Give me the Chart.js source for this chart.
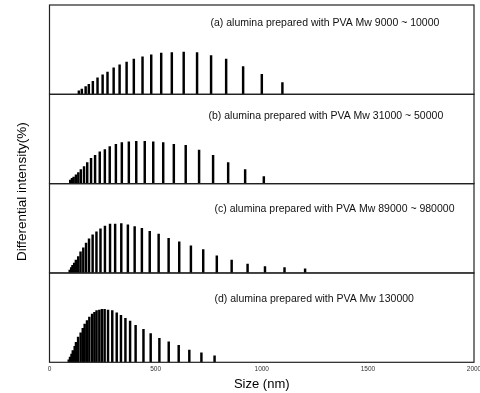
<!DOCTYPE html>
<html>
<head>
<meta charset="UTF-8">
<title>Particle size distribution</title>
<script src="https://cdn.jsdelivr.net/npm/chart.js"></script>
<style>
    html, body { margin: 0; padding: 0; background: white; }
    #wrap { width: 480px; height: 393px; }
</style>
</head>
<body>
<div id="wrap"><canvas id="sizeChart" width="480" height="393"></canvas></div>
<script>
    // size bins (nm) and differential intensity (%) for each sample
    const sizesA = [151, 165, 183, 198, 217, 239, 263, 286, 315, 343, 376, 410, 451, 492, 539, 589, 645, 708, 774, 845, 925, 1013, 1110];
    const valuesA = [0.6, 0.9, 1.3, 1.7, 2.2, 2.8, 3.3, 3.8, 4.5, 5.0, 5.5, 6.0, 6.4, 6.7, 7.0, 7.1, 7.2, 7.1, 6.6, 6.0, 4.7, 3.4, 2.0];

    const sizesB = [102, 110, 118, 129, 140, 152, 167, 182, 200, 219, 241, 265, 288, 317, 345, 378, 413, 453, 493, 540, 590, 646, 709, 775, 846, 926, 1014];
    const valuesB = [0.6, 0.9, 1.1, 1.5, 1.9, 2.4, 2.9, 3.6, 4.3, 4.8, 5.4, 5.8, 6.3, 6.7, 7.0, 7.1, 7.2, 7.2, 7.1, 7.0, 6.7, 6.5, 5.7, 4.8, 3.6, 2.4, 1.2];

    const sizesC = [91, 98, 104, 112, 120, 131, 142, 155, 168, 182, 199, 217, 236, 257, 281, 305, 334, 365, 397, 431, 468, 510, 557, 607, 662, 720, 784, 854, 929, 1011, 1103, 1200];
    const valuesC = [0.5, 0.9, 1.3, 1.7, 2.2, 2.8, 3.6, 4.3, 5.1, 5.8, 6.5, 7.0, 7.5, 8.0, 8.3, 8.3, 8.4, 8.2, 7.9, 7.6, 7.1, 6.6, 5.9, 5.3, 4.6, 4.0, 2.9, 2.2, 1.5, 1.1, 0.9, 0.7];

    const sizesD = [78, 84, 91, 97, 106, 112, 122, 134, 144, 153, 164, 175, 188, 199, 209, 222, 234, 247, 263, 283, 304, 324, 345, 367, 393, 430, 464, 505, 549, 596, 646, 703, 765];
    const valuesD = [0.4, 0.9, 1.4, 2.0, 2.7, 3.4, 4.3, 5.0, 5.8, 6.5, 7.1, 7.7, 8.2, 8.5, 8.8, 8.9, 9.0, 9.0, 8.9, 8.8, 8.4, 8.0, 7.5, 7.0, 6.3, 5.6, 4.9, 4.1, 3.5, 2.9, 2.1, 1.6, 1.1];

    const panelLabels = [
        '(a) alumina prepared with PVA Mw 9000 ~ 10000',
        '(b) alumina prepared with PVA Mw 31000 ~ 50000',
        '(c) alumina prepared with PVA Mw 89000 ~ 980000',
        '(d) alumina prepared with PVA Mw 130000'
    ];
    const xTicks = [0, 500, 1000, 1500, 2000];
    const yMax = 15.2;

    const FONT = 'Liberation Sans, Arial, sans-serif';

    function toPoints(sizes, values) {
        return sizes.map((s, i) => ({x: s, y: values[i]}));
    }

    const panelIds = ['ya', 'yb', 'yc', 'yd'];
    const allSizes = [sizesA, sizesB, sizesC, sizesD];
    const allValues = [valuesA, valuesB, valuesC, valuesD];

    const datasets = panelIds.map((id, i) => ({
        label: panelLabels[i],
        data: toPoints(allSizes[i], allValues[i]),
        yAxisID: id,
        backgroundColor: '#000',
        borderWidth: 0,
        barThickness: 1.8
    }));

    const scales = {
        x: {
            type: 'linear',
            min: 0,
            max: 2000,
            offset: false,
            afterBuildTicks: axis => {
                axis.ticks = xTicks.map(v => ({value: v}));
            },
            afterFit: axis => {
                // let the end labels run past the frame, like the original
                axis.paddingLeft = 0;
                axis.paddingRight = 0;
                axis.height = 30.7;
            },
            grid: {display: false, drawTicks: false, offset: false},
            border: {display: false},
            ticks: {
                font: {family: FONT, size: 6.5},
                color: '#333',
                padding: 2.8,
                maxRotation: 0,
                callback: v => String(v)
            },
            title: {
                display: true,
                text: 'Size (nm)',
                font: {family: FONT, size: 13},
                color: '#000',
                padding: {top: 0, bottom: 1.2}
            }
        }
    };
    // stacked y axes, one per panel (declared bottom panel first)
    [...panelIds].reverse().forEach(id => {
        scales[id] = {
            type: 'linear',
            position: 'left',
            stack: 'panels',
            stackWeight: 1,
            min: 0,
            max: yMax,
            grid: {display: false, drawTicks: false},
            border: {display: false},
            ticks: {display: false}
        };
    });

    const framePlugin = {
        id: 'frames',
        afterDraw(chart) {
            const ctx = chart.ctx;
            const area = chart.chartArea;
            ctx.save();
            ctx.strokeStyle = '#222';
            ctx.lineWidth = 1.2;
            panelIds.forEach((id, i) => {
                const s = chart.scales[id];
                ctx.strokeRect(area.left, s.top, area.right - area.left, s.bottom - s.top);
                ctx.fillStyle = '#111';
                ctx.font = '10.5px ' + FONT;
                ctx.textBaseline = 'middle';
                const offsets = [161, 159, 165, 165];
                const dy = [18, 22, 25, 26];
                ctx.fillText(panelLabels[i], area.left + offsets[i], s.top + dy[i]);
            });
            // y axis title spanning all panels
            ctx.translate(22, (area.top + area.bottom) / 2 + 8);
            ctx.rotate(-Math.PI / 2);
            ctx.textAlign = 'center';
            ctx.textBaseline = 'middle';
            ctx.font = '13.5px ' + FONT;
            ctx.fillStyle = '#000';
            ctx.fillText('Differential intensity(%)', 0, 0);
            ctx.restore();
        }
    };

    new Chart(document.getElementById('sizeChart'), {
        type: 'bar',
        data: {datasets: datasets},
        options: {
            responsive: false,
            animation: false,
            layout: {autoPadding: false, padding: {left: 49.5, right: 6, top: 5, bottom: 0}},
            plugins: {
                legend: {display: false},
                tooltip: {enabled: false}
            },
            scales: scales
        },
        plugins: [framePlugin]
    });
</script>
</body>
</html>
